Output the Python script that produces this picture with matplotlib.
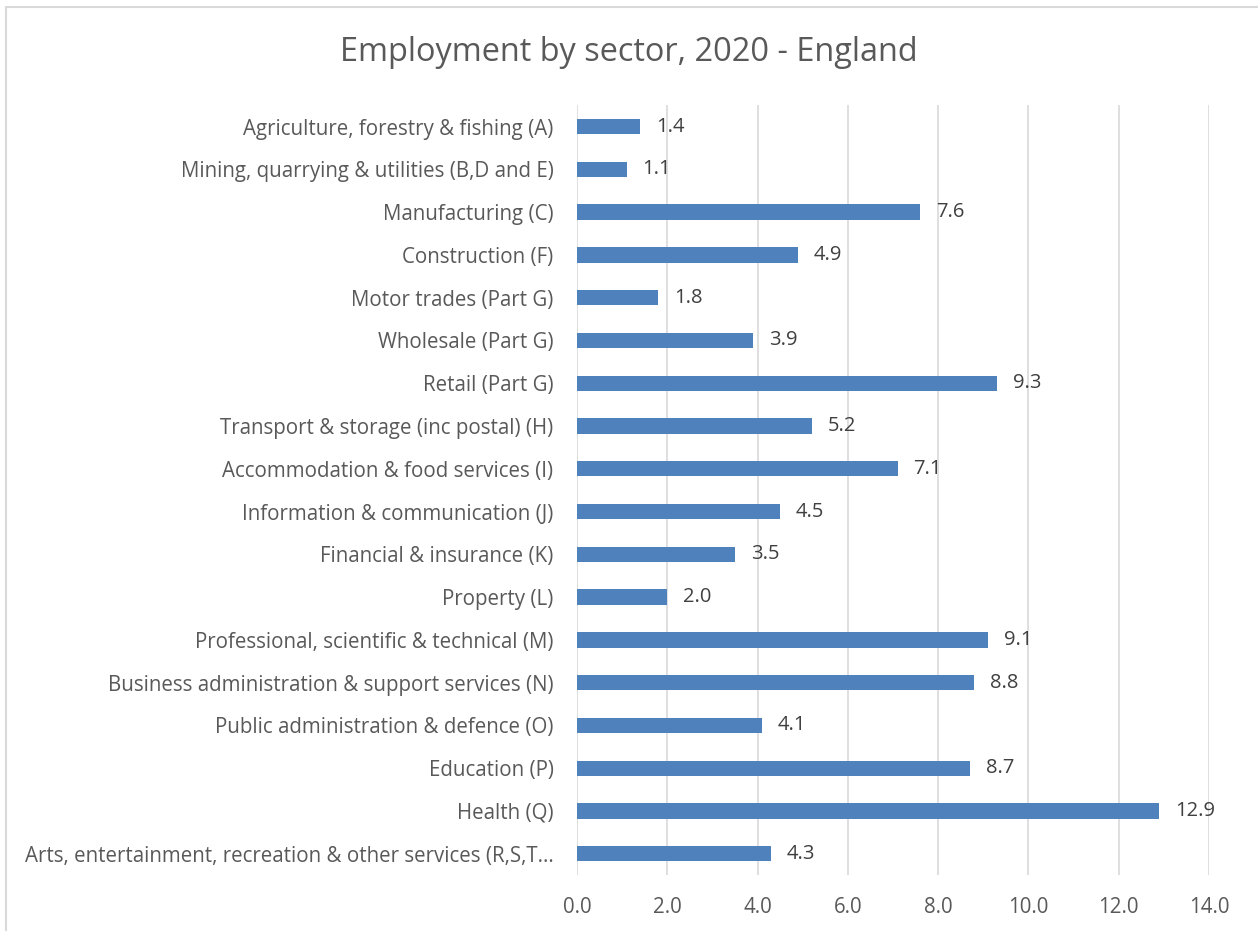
import matplotlib
matplotlib.use('Agg')
import matplotlib.pyplot as plt
from matplotlib.patches import Rectangle

plt.rcParams['font.family'] = ['Open Sans', 'DejaVu Sans']

sectors = [
    'Agriculture, forestry & fishing (A)',
    'Mining, quarrying & utilities (B,D and E)',
    'Manufacturing (C)',
    'Construction (F)',
    'Motor trades (Part G)',
    'Wholesale (Part G)',
    'Retail (Part G)',
    'Transport & storage (inc postal) (H)',
    'Accommodation & food services (I)',
    'Information & communication (J)',
    'Financial & insurance (K)',
    'Property (L)',
    'Professional, scientific & technical (M)',
    'Business administration & support services (N)',
    'Public administration & defence (O)',
    'Education (P)',
    'Health (Q)',
    'Arts, entertainment, recreation & other services (R,S,T...',
]
values = [1.4, 1.1, 7.6, 4.9, 1.8, 3.9, 9.3, 5.2, 7.1, 4.5, 3.5, 2.0, 9.1, 8.8, 4.1, 8.7, 12.9, 4.3]
x_ticks = [0, 2, 4, 6, 8, 10, 12, 14]

text_col = '#595959'
bar_col = '#4F81BD'

fig = plt.figure(figsize=(12.58, 9.31), dpi=100)
fig.patches.append(Rectangle((0.005, -0.01), 1.2, 1.002, transform=fig.transFigure,
                             fill=False, edgecolor='#D9D9D9', linewidth=1.5))

ax = fig.add_axes([0.4587, 0.060, 0.5024, 0.827])
pos = list(range(len(sectors)))
ax.barh(pos, values, height=0.36, color=bar_col, zorder=3)
for p, v in zip(pos, values):
    ax.text(v + 0.35, p, f'{v:.1f}', va='center', ha='left', fontsize=14.5, color='#404040')

ax.set_ylim(len(sectors) - 0.5, -0.5)
ax.set_xlim(0, 14)
ax.set_xticks(x_ticks)
ax.set_xticklabels([f'{t:.1f}' for t in x_ticks])
ax.set_yticks(pos)
ax.set_yticklabels(sectors)
ax.tick_params(axis='both', length=0, labelsize=14.8, labelcolor=text_col)
ax.tick_params(axis='x', pad=16)
ax.tick_params(axis='y', pad=17)
ax.grid(axis='x', color='#D9D9D9', linewidth=1.2, zorder=0)
for s in ax.spines.values():
    s.set_visible(False)

fig.text(0.5, 0.944, 'Employment by sector, 2020 - England', ha='center', va='center',
         fontsize=23.4, color=text_col)

fig.savefig('out.png', dpi=100)
